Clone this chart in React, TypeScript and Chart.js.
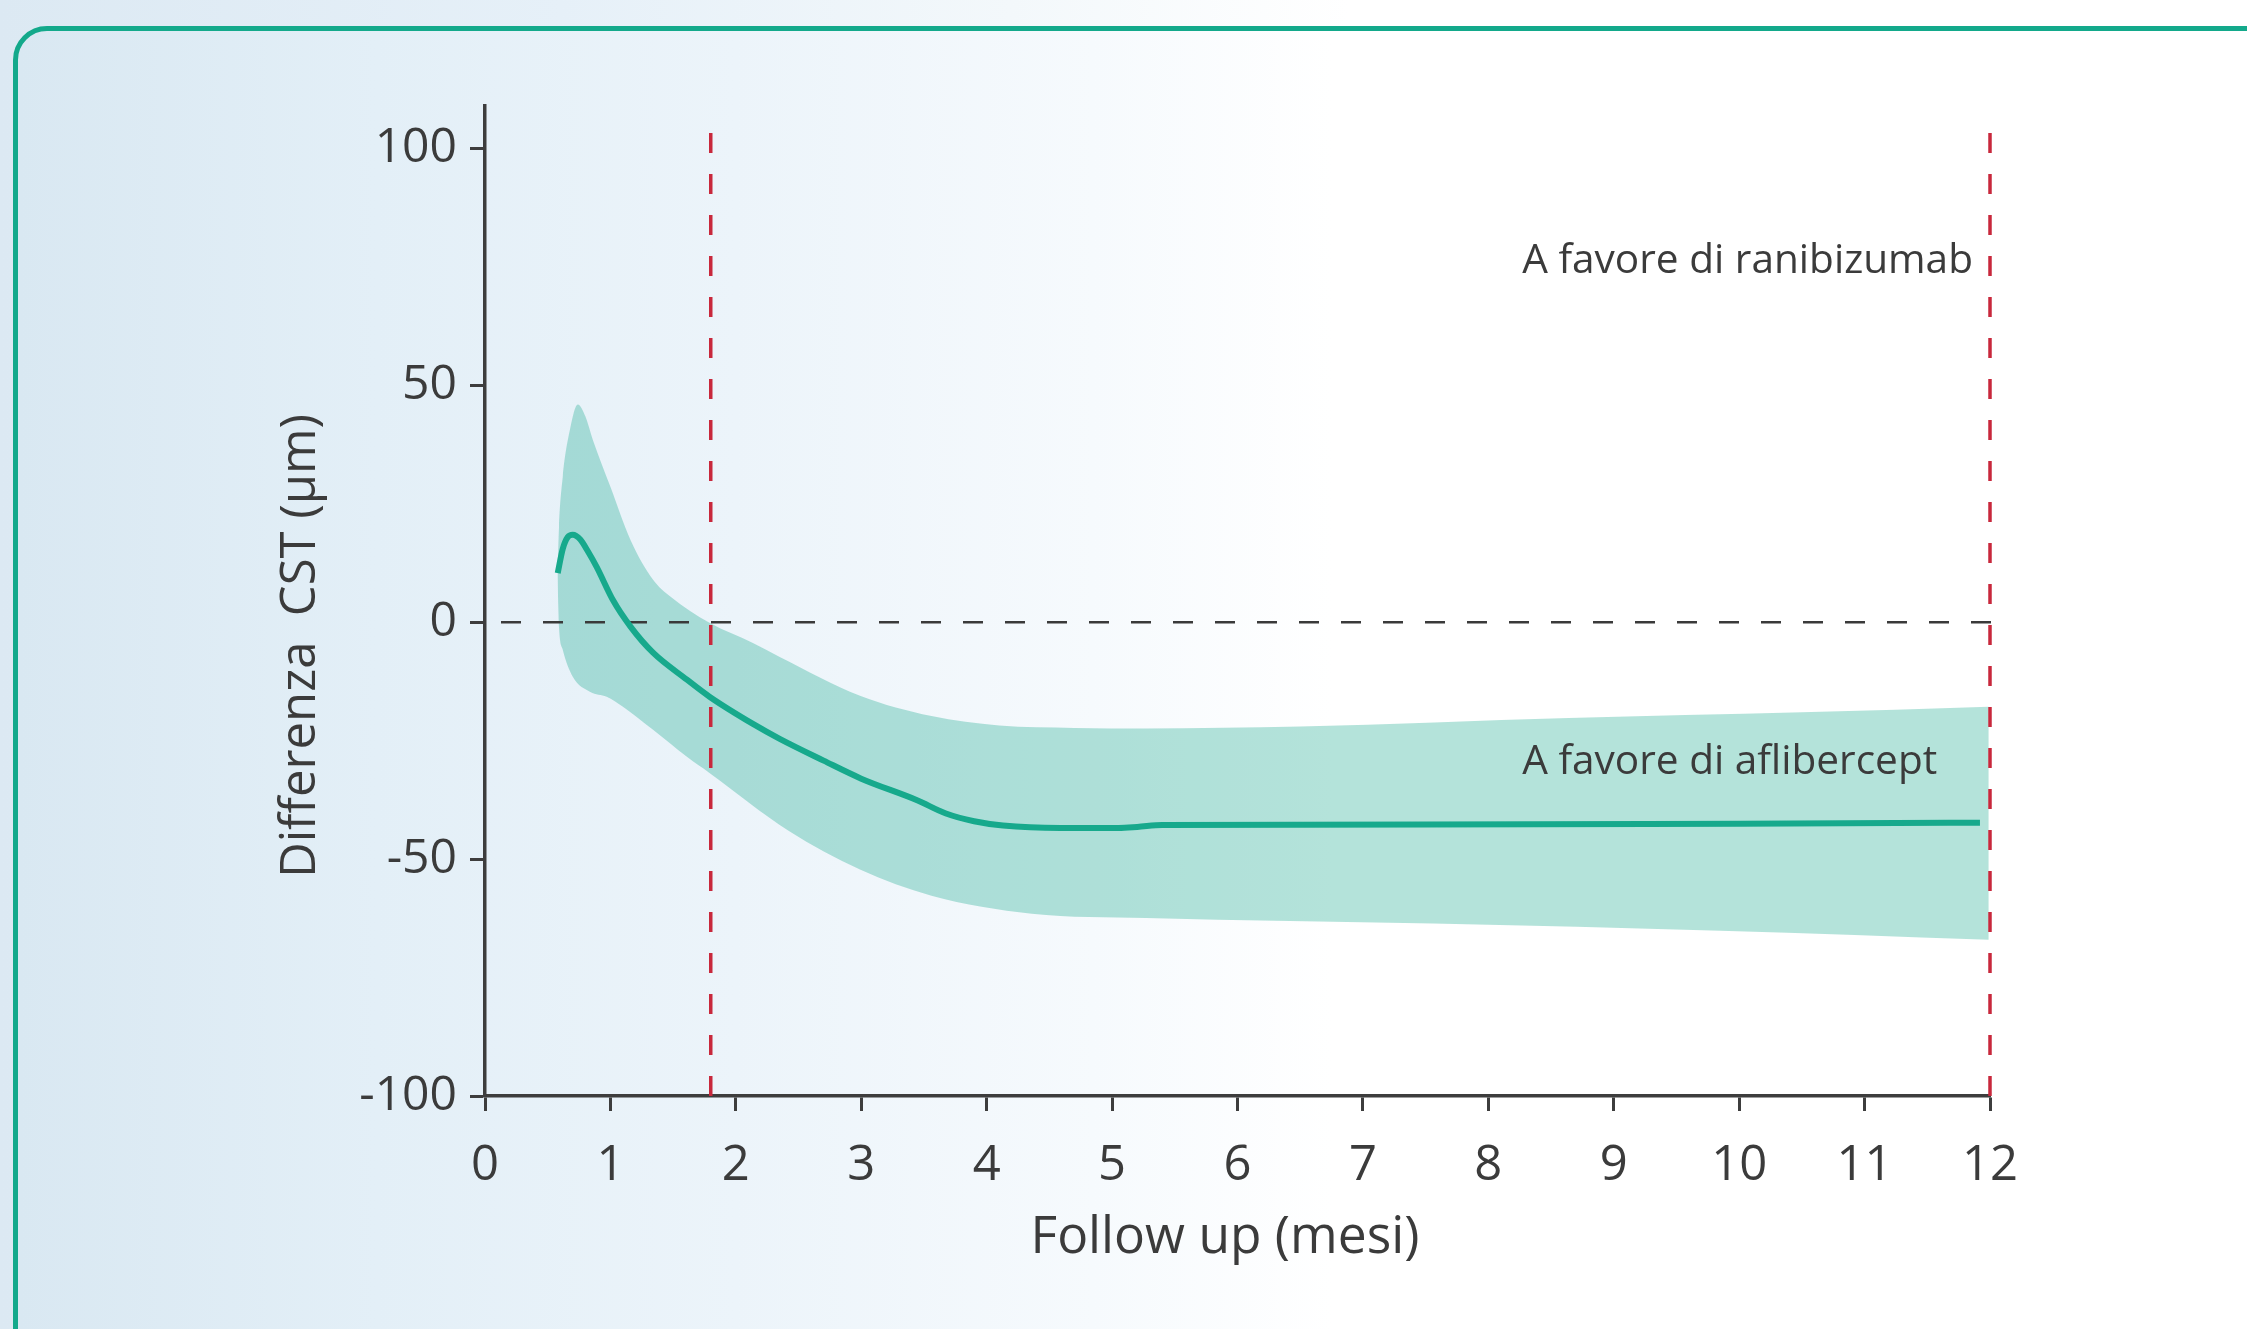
import React, { useEffect, useRef } from 'react';
import { Chart, registerables } from 'chart.js';

Chart.register(...registerables);

// ---- data ----
const monthTicks = [0, 1, 2, 3, 4, 5, 6, 7, 8, 9, 10, 11, 12];
const yTickValues = [-100, -50, 0, 50, 100];

const meanX = [0.58, 0.62, 0.66, 0.70, 0.76, 0.82, 0.89, 1.02, 1.16, 1.34, 1.61, 1.79, 2.14, 2.35, 2.7, 3.0, 3.45, 3.67, 3.9, 4.13, 4.59, 5.05, 5.2, 5.4, 7.5, 10, 11.92];
const meanY = [10.4, 15.5, 18.0, 18.5, 17.5, 15.0, 11.7, 4.7, -0.9, -6.4, -12.1, -15.7, -21.5, -24.6, -29.2, -33.0, -37.6, -40.3, -42.0, -42.9, -43.4, -43.4, -43.2, -42.8, -42.7, -42.5, -42.3];

const upperX = [0.578, 0.59, 0.62, 0.68, 0.74, 0.80, 0.86, 1.0, 1.16, 1.34, 1.48, 1.79, 2.14, 2.35, 2.99, 3.56, 4.1, 4.7, 5.27, 6.5, 8.64, 10.5, 11.99];
const upperY = [9.6, 20, 30.7, 41, 46, 43.5, 38.5, 28.6, 17.4, 9.0, 5.4, -0.1, -4.4, -7.3, -15.5, -19.8, -21.8, -22.3, -22.4, -22.0, -20.2, -19.0, -17.8];

const lowerX = [0.578, 0.59, 0.62, 0.70, 0.84, 0.97, 1.10, 1.34, 1.61, 1.79, 2.42, 2.99, 3.56, 4.36, 5.27, 7.56, 9.85, 11.99];
const lowerY = [9.6, -1, -5.8, -11.5, -14.7, -15.7, -17.8, -22.7, -28.4, -31.8, -44, -52.2, -57.7, -61.5, -62.4, -63.6, -65.1, -67];

const cutoffMonths = [1.8, 12];
const cutoffRange = [-100, 107.5];
const zeroLineRange = [0, 12.06];

const xTitle = 'Follow up (mesi)';
const yTitle = 'Differenza  CST (µm)';
const annotationTexts = ['A favore di ranibizumab', 'A favore di aflibercept'];
const annotationX = [8.27, 8.27];
const annotationY = [73.8, -32.0];

const pts = (xs: number[], ys: number[]) => xs.map((x, i) => ({ x, y: ys[i] }));

const TEXT = '#3b3b3b';
const FONT = '"Open Sans", "Noto Sans", sans-serif';

const textPlugin = {
  id: 'extraText',
  afterDraw(chart: any) {
    const { ctx, chartArea, scales } = chart;
    const xs = scales.x;
    const ys = scales.y;
    ctx.save();
    ctx.fillStyle = TEXT;
    ctx.textBaseline = 'alphabetic';
    // annotations
    ctx.font = `40.6px ${FONT}`;
    ctx.textAlign = 'left';
    annotationTexts.forEach((t, i) => {
      ctx.fillText(t, xs.getPixelForValue(annotationX[i]), ys.getPixelForValue(annotationY[i]));
    });
    // x title
    ctx.font = `51.5px ${FONT}`;
    ctx.textAlign = 'center';
    ctx.fillText(xTitle, xs.getPixelForValue(5.9), chartArea.bottom + 157);
    // y title
    ctx.font = `49px ${FONT}`;
    ctx.translate(chartArea.left - 170, ys.getPixelForValue(-5));
    ctx.rotate(-Math.PI / 2);
    ctx.fillText(yTitle, 0, 0);
    ctx.restore();
  },
};

export default function App() {
  const ref = useRef<HTMLCanvasElement | null>(null);

  useEffect(() => {
    if (!ref.current) return;
    const chart = new Chart(ref.current, {
      type: 'line',
      data: {
        datasets: [
          {
            label: 'upper',
            data: pts(upperX, upperY),
            borderWidth: 0,
            borderColor: 'rgba(0,0,0,0)',
            backgroundColor: 'rgba(22,168,140,0.32)',
            pointRadius: 0,
            fill: '+1',
            cubicInterpolationMode: 'monotone',
            order: 3,
          },
          {
            label: 'lower',
            data: pts(lowerX, lowerY),
            borderWidth: 0,
            borderColor: 'rgba(0,0,0,0)',
            pointRadius: 0,
            fill: false,
            cubicInterpolationMode: 'monotone',
            order: 4,
          },
          {
            label: 'zero',
            data: pts(zeroLineRange, [0, 0]),
            borderColor: '#3a3a3a',
            borderWidth: 2.4,
            borderDash: [20, 22],
            borderDashOffset: 26,
            pointRadius: 0,
            fill: false,
            clip: false,
            order: 2,
          },
          {
            label: 'cut1',
            data: pts([cutoffMonths[0], cutoffMonths[0]], cutoffRange),
            borderColor: '#c8283c',
            borderWidth: 3.5,
            borderDash: [20, 21],
            pointRadius: 0,
            fill: false,
            clip: false,
            order: 1,
          },
          {
            label: 'cut2',
            data: pts([cutoffMonths[1], cutoffMonths[1]], cutoffRange),
            borderColor: '#c8283c',
            borderWidth: 3.5,
            borderDash: [20, 21],
            pointRadius: 0,
            fill: false,
            clip: false,
            order: 1,
          },
          {
            label: 'mean',
            data: pts(meanX, meanY),
            borderColor: '#17a98c',
            borderWidth: 6,
            pointRadius: 0,
            fill: false,
            cubicInterpolationMode: 'monotone',
            borderCapStyle: 'butt',
            order: 0,
          },
        ],
      },
      options: {
        responsive: false,
        animation: false,
        devicePixelRatio: 1,
        layout: { padding: { top: 106, right: 257, bottom: 0, left: 0 } },
        plugins: {
          legend: { display: false },
          tooltip: { enabled: false },
          title: { display: false },
        },
        scales: {
          x: {
            type: 'linear',
            min: 0,
            max: 12,
            afterFit: (s: any) => { s.height = 233; },
            afterBuildTicks: (s: any) => { s.ticks = monthTicks.map((v) => ({ value: v })); },
            ticks: {
              stepSize: 1,
              color: TEXT,
              font: { family: FONT, size: 49 },
              padding: 26,
              maxRotation: 0,
            },
            grid: {
              display: true,
              drawOnChartArea: false,
              drawTicks: true,
              tickLength: 15,
              tickWidth: 3,
              tickColor: '#3d3d3d',
            },
            border: { display: true, color: '#3d3d3d', width: 3.5 },
          },
          y: {
            type: 'linear',
            min: -100,
            max: 109,
            afterFit: (s: any) => { s.width = 485; },
            afterBuildTicks: (s: any) => { s.ticks = yTickValues.map((v) => ({ value: v })); },
            ticks: {
              stepSize: 50,
              color: TEXT,
              font: { family: FONT, size: 48 },
              padding: 13,
              includeBounds: false,
            },
            grid: {
              display: true,
              drawOnChartArea: false,
              drawTicks: true,
              tickLength: 15,
              tickWidth: 3,
              tickColor: '#3d3d3d',
            },
            border: { display: true, color: '#3d3d3d', width: 3.5 },
          },
        },
      },
      plugins: [textPlugin],
    });
    return () => chart.destroy();
  }, []);

  return (
    <div
      style={{
        position: 'fixed',
        left: 0,
        top: 0,
        width: 2247,
        height: 1329,
        overflow: 'hidden',
        background: 'linear-gradient(90deg, #dce9f3 0%, #e6f0f8 25%, #f3f8fb 45%, #ffffff 60%, #ffffff 100%)',
      }}
    >
      <div
        style={{
          position: 'absolute',
          left: 13,
          top: 26,
          width: 2400,
          height: 1500,
          border: '5px solid #13a98b',
          borderRadius: 34,
          background: 'linear-gradient(90deg, #d9e8f2 0%, #e3eff7 15%, #ecf4fa 30%, #f6fafd 45%, #ffffff 55%, #ffffff 100%)',
          boxSizing: 'border-box',
        }}
      />
      <canvas
        ref={ref}
        width={2247}
        height={1329}
        style={{ position: 'absolute', left: 0, top: 0, width: 2247, height: 1329 }}
      />
    </div>
  );
}
